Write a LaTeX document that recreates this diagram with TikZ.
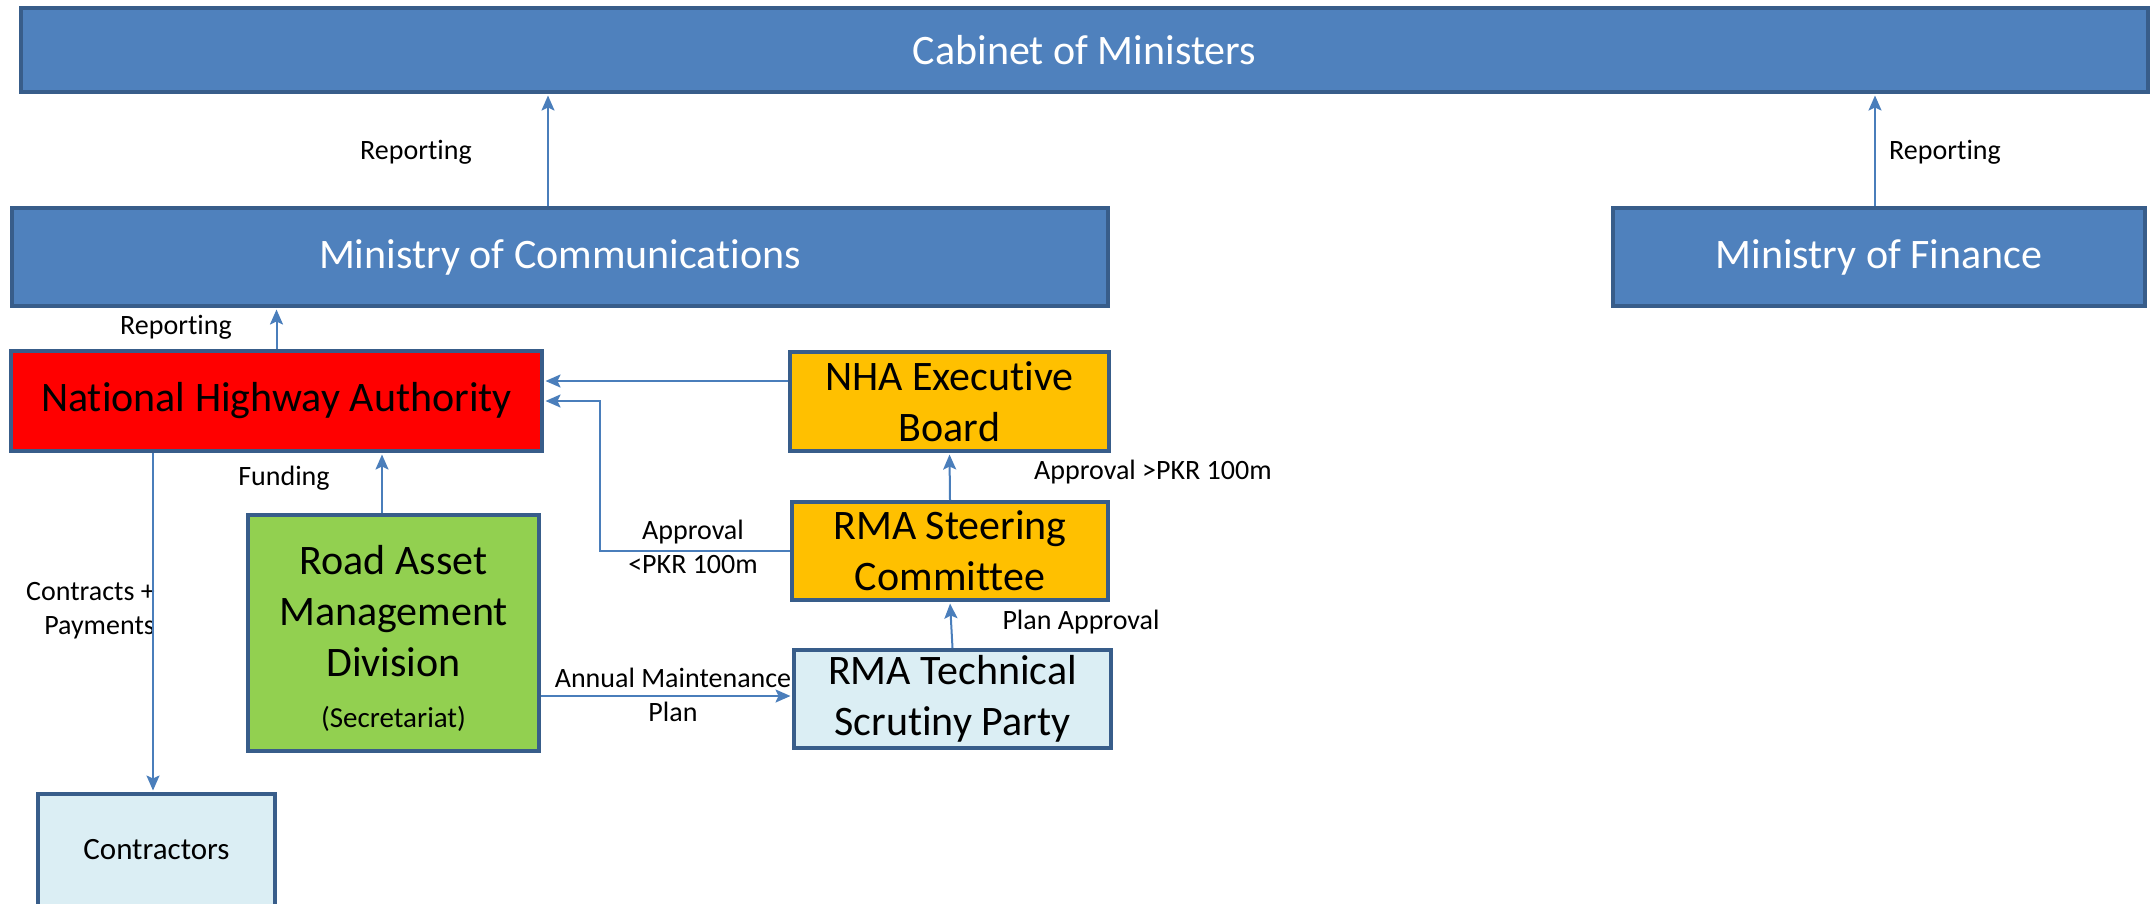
\documentclass[tikz,border=0pt]{standalone}
\usepackage{fontspec}
\setmainfont{Carlito}[Ligatures={NoCommon,NoContextual}]
\usetikzlibrary{arrows.meta}
\definecolor{blueF}{HTML}{4F81BD}
\definecolor{bordc}{HTML}{385D8A}
\definecolor{linec}{HTML}{4A7EBB}
\definecolor{redF}{HTML}{FF0000}
\definecolor{orangeF}{HTML}{FFC000}
\definecolor{greenF}{HTML}{92D050}
\definecolor{lightF}{HTML}{DBEEF4}
\newcommand{\fbig}{\fontsize{42}{51}\selectfont}
\newcommand{\flbl}{\fontsize{28}{34}\selectfont}
\begin{document}
\begin{tikzpicture}[x=1pt,y=-1pt,
  box/.style={draw=bordc, line width=4pt, inner sep=0pt, align=center, font=\fbig},
  lbl/.style={inner sep=0pt, align=center, font=\flbl, text=black},
  conn/.style={draw=linec, line width=2pt, shorten >=1.5pt,
    -{Stealth[length=15pt,width=13pt,inset=3pt]}}]
\useasboundingbox (0,0) rectangle (2153,903);
\clip (0,0) rectangle (2153,903);
% labels (drawn first, boxes may overlap them)
\node[lbl] (lrep1) at (416,152) {Reporting};
\node[lbl] (lrep2) at (1945,152) {Reporting};
\node[lbl] (lrep3) at (176,327) {Reporting};
\node[lbl] (lfund) at (284,478) {Funding};
\node[lbl, anchor=west] (lappg) at (1034,472) {Approval >PKR 100m};
\node[lbl] (lappl) at (693,547) {Approval\\<PKR 100m};
\node[lbl] (lplan) at (1081,622) {Plan Approval};
\node[lbl] (lamp) at (673,695) {Annual Maintenance\\Plan};
\node[lbl, align=right, anchor=east] (lcon) at (155,611) {Contracts +\\Payments};
% boxes
\node[box, fill=blueF, text=white, minimum width=2127, minimum height=84] (cab) at (1084.5,50) {Cabinet of Ministers};
\node[box, fill=blueF, text=white, minimum width=1096, minimum height=98] (moc) at (560,257) {Ministry of Communications};
\node[box, fill=blueF, text=white, minimum width=532, minimum height=98] (mof) at (1879,257) {Ministry of Finance};
\node[box, fill=redF, minimum width=531, minimum height=100] (nha) at (276.5,401) {National Highway Authority};
\node[box, fill=orangeF, minimum width=319, minimum height=99] (exec) at (949.5,401.5) {NHA Executive\\Board};
\node[box, fill=orangeF, minimum width=316, minimum height=98] (steer) at (950,551) {RMA Steering\\Committee};
\node[box, fill=greenF, minimum width=291, minimum height=236] (ramd) at (393.5,633) {\rule{0pt}{40pt}Road Asset\\Management\\Division\\{\fontsize{29}{51}\selectfont (Secretariat)}};
\node[box, fill=lightF, minimum width=317, minimum height=98] (tech) at (952.5,699) {RMA Technical\\Scrutiny Party};
\node[box, fill=lightF, minimum width=237, minimum height=112, font=\fontsize{31}{37}\selectfont] (contr) at (156.5,850) {Contractors};
% helper coordinates
\coordinate (xa) at (548,0);
\coordinate (xb) at (1875,0);
\coordinate (xf) at (382,0);
\coordinate (xc) at (153,0);
\coordinate (ye) at (0,381);
\coordinate (ym) at (0,696);
\coordinate (bendA) at (600,551);
% connectors
\draw[conn] (moc.north -| xa) -- (cab.south -| xa);
\draw[conn] (mof.north -| xb) -- (cab.south -| xb);
\draw[conn] (nha.north) -- (moc.south -| nha.north);
\draw[conn] (exec.west |- ye) -- (nha.east |- ye);
\draw[conn] (steer.west) -- (bendA) |- (nha.east);
\draw[conn] (steer.north) -- (exec.south);
\draw[conn] (tech.north) -- (steer.south);
\draw[conn] (ramd.east |- ym) -- (tech.west |- ym);
\draw[conn] (ramd.north -| xf) -- (nha.south -| xf);
\draw[conn] (nha.south -| xc) -- (contr.north -| xc);
\end{tikzpicture}
\end{document}
